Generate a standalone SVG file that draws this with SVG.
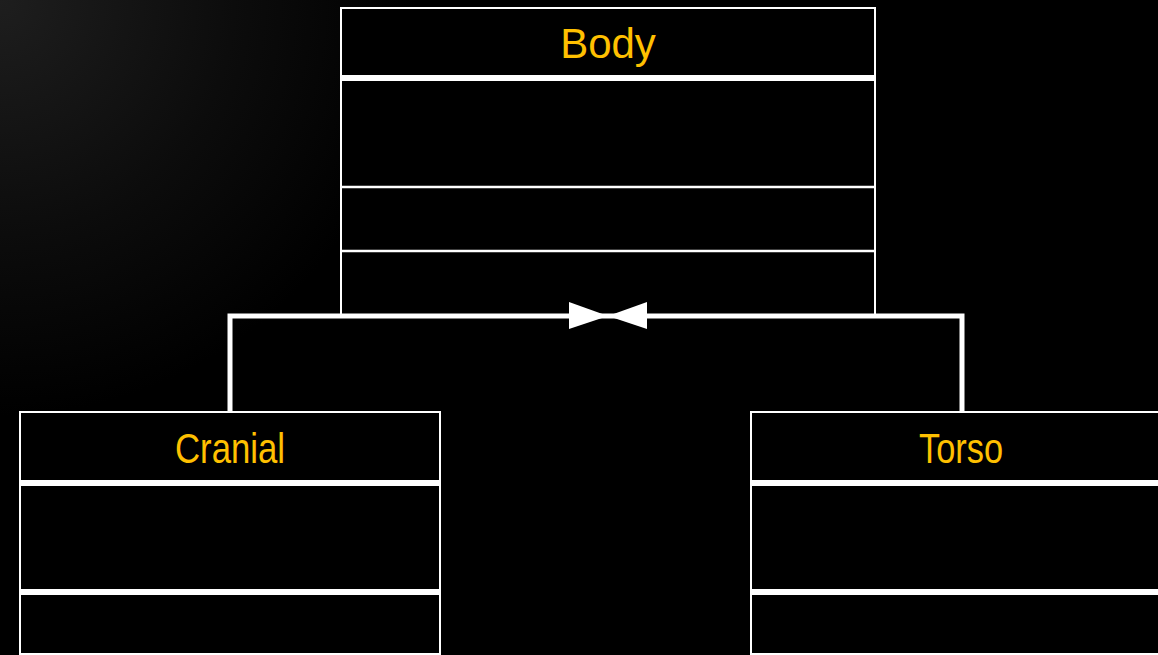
<svg xmlns="http://www.w3.org/2000/svg" width="1158" height="655" viewBox="0 0 1158 655">
  <defs>
    <radialGradient id="bgGlow" cx="0" cy="0" r="520" gradientUnits="userSpaceOnUse">
      <stop offset="0" stop-color="#1e1e1e"/>
      <stop offset="0.45" stop-color="#0c0c0c"/>
      <stop offset="0.8" stop-color="#000000"/>
    </radialGradient>
    <style>
      .box { fill: #000000; stroke: #ffffff; stroke-width: 2; }
      .sep-thick { stroke: #ffffff; stroke-width: 6; }
      .sep-thin { stroke: #ffffff; stroke-width: 2.5; }
      .title { fill: #ffc000; font-family: "Liberation Sans", Arial, sans-serif; font-size: 42px; text-anchor: middle; }
      .link { fill: none; stroke: #ffffff; stroke-width: 5; stroke-linejoin: miter; }
      .head { fill: #ffffff; }
    </style>
  </defs>

  <rect x="0" y="0" width="1158" height="655" fill="#000000"/>
  <rect x="0" y="0" width="1158" height="655" fill="url(#bgGlow)"/>

  <!-- Body class -->
  <g id="body">
    <rect class="box" x="341" y="8" width="534" height="308"/>
    <line class="sep-thick" x1="341" y1="78" x2="875" y2="78"/>
    <line class="sep-thin" x1="341" y1="187" x2="875" y2="187"/>
    <line class="sep-thin" x1="341" y1="251" x2="875" y2="251"/>
    <text class="title" x="608" y="58">Body</text>
  </g>

  <!-- Cranial class -->
  <g id="cranial">
    <rect class="box" x="20" y="412" width="420" height="242"/>
    <line class="sep-thick" x1="20" y1="483" x2="440" y2="483"/>
    <line class="sep-thick" x1="20" y1="592" x2="440" y2="592"/>
    <text class="title" x="230" y="463" textLength="110" lengthAdjust="spacingAndGlyphs">Cranial</text>
  </g>

  <!-- Torso class -->
  <g id="torso">
    <rect class="box" x="751" y="412" width="420" height="242"/>
    <line class="sep-thick" x1="751" y1="483" x2="1171" y2="483"/>
    <line class="sep-thick" x1="751" y1="592" x2="1171" y2="592"/>
    <text class="title" x="961" y="463" textLength="84" lengthAdjust="spacingAndGlyphs">Torso</text>
  </g>

  <!-- Generalisation links meeting under Body -->
  <g id="connectors">
    <path class="link" d="M230,411 V316 H962 V411"/>
    <polygon class="head" points="569,302 608,316 569,329"/>
    <polygon class="head" points="647,302 608,316 647,329"/>
  </g>
</svg>
